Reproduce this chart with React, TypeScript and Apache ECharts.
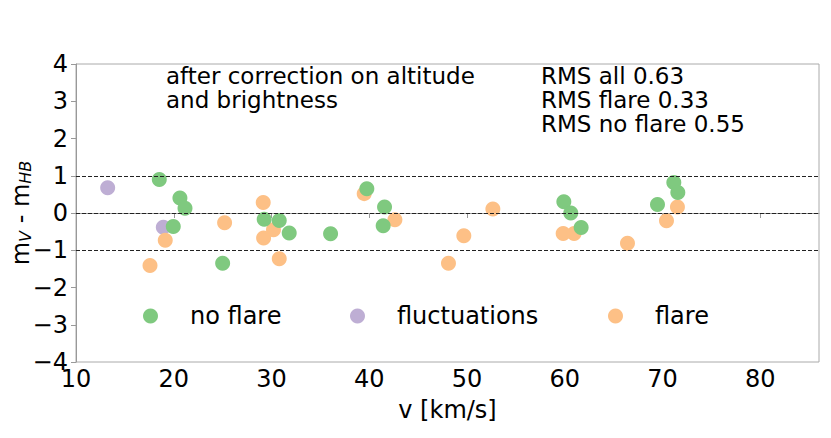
import React, { useEffect, useRef } from "react";
import * as echarts from "echarts";

const noFlare: number[][] = [
  [18.52, 0.9], [20.63, 0.4], [21.15, 0.13], [19.95, -0.36], [25.0, -1.35],
  [29.25, -0.17], [30.79, -0.2], [31.81, -0.54], [36.04, -0.56], [39.75, 0.65],
  [41.56, 0.16], [41.42, -0.34], [59.9, 0.3], [60.61, 0.0], [61.67, -0.39],
  [69.48, 0.23], [71.15, 0.82], [71.56, 0.55],
];
const fluctuations: number[][] = [
  [13.24, 0.68], [18.93, -0.38],
];
const flare: number[][] = [
  [17.57, -1.41], [19.13, -0.73], [25.2, -0.26], [29.15, 0.28], [29.19, -0.67],
  [30.2, -0.45], [30.79, -1.23], [39.48, 0.52], [42.62, -0.18], [48.1, -1.35],
  [49.67, -0.61], [52.64, 0.11], [59.83, -0.55], [60.95, -0.55], [66.41, -0.81],
  [70.4, -0.21], [71.52, 0.16],
];
const xTicks = [10, 20, 30, 40, 50, 60, 70, 80];
const refLines = [-1, 0, 1];
const annotation = ["after correction on altitude", "and brightness"];
const rmsLines = ["RMS all 0.63", "RMS flare 0.33", "RMS no flare 0.55"];

const FONT = "DejaVu Sans";
const GREEN = "#7fc97f";
const PURPLE = "#beaed4";
const ORANGE = "#fdc086";

export default function App() {
  const ref = useRef<HTMLDivElement>(null);
  useEffect(() => {
    if (!ref.current) return;
    const chart = echarts.init(ref.current, null, { renderer: "svg" });
    const legendBase = {
      orient: "horizontal",
      top: 299,
      itemWidth: 15,
      itemHeight: 15,
      icon: "circle",
      textStyle: { fontFamily: FONT, fontSize: 24, color: "#000", padding: [0, 0, 0, 27] },
    };
    const textLine = (s: string, x: number, y: number) => ({
      type: "text",
      left: x,
      top: y,
      style: { text: s, fontFamily: FONT, fontSize: 23, fill: "#000" },
    });
    chart.setOption({
      animation: false,
      backgroundColor: "#fff",
      grid: {
        left: 76, right: 12, top: 64, bottom: 76,
        outerBoundsMode: "none",
        containLabel: false,
        show: true, borderColor: "#aaa", borderWidth: 1,
      },
      legend: [
        { ...legendBase, left: 138, data: ["no flare"] },
        { ...legendBase, left: 345, data: ["fluctuations"] },
        { ...legendBase, left: 603, data: ["flare"] },
      ],
      xAxis: {
        type: "value",
        min: 10,
        max: 86,
        interval: 10,
        name: "v [km/s]",
        nameLocation: "middle",
        nameGap: 36,
        nameMoveOverlap: false,
        nameTextStyle: { fontFamily: FONT, fontSize: 24, color: "#000" },
        axisLine: { show: true, lineStyle: { color: "#999", width: 1 } },
        axisTick: { show: true, length: 5, inside: false, lineStyle: { color: "#999" }, customValues: xTicks },
        axisLabel: { fontFamily: FONT, fontSize: 24, color: "#000", margin: 5, customValues: xTicks },
        splitLine: { show: false },
      },
      yAxis: {
        type: "value",
        min: -4,
        max: 4,
        interval: 1,
        name: "{m|m}{s|V}{m| - m}{s|HB}",
        nameLocation: "middle",
        nameRotate: 90,
        nameGap: 43,
        nameMoveOverlap: false,
        nameTextStyle: {
          fontFamily: FONT,
          fontSize: 24,
          color: "#000",
          rich: {
            m: { fontFamily: FONT, fontSize: 24, color: "#000" },
            s: { fontFamily: FONT, fontSize: 16, fontStyle: "italic", color: "#000", verticalAlign: "bottom" },
          },
        },
        axisLine: { show: true, lineStyle: { color: "#999", width: 1 } },
        axisTick: { show: true, length: 5, inside: false, lineStyle: { color: "#999" } },
        axisLabel: {
          fontFamily: FONT,
          fontSize: 24,
          color: "#000",
          margin: 8,
          formatter: (v: number) => String(v).replace("-", "\u2212"),
        },
        splitLine: { show: false },
      },
      series: [
        {
          name: "fluctuations",
          type: "scatter",
          data: fluctuations,
          symbolSize: 15,
          itemStyle: { color: PURPLE, opacity: 1 },
          markLine: {
            silent: true,
            symbol: "none",
            label: { show: false },
            lineStyle: { color: "#222", type: [4, 2], width: 1 },
            data: refLines.map((y) => ({ yAxis: y })),
          },
        },
        {
          name: "flare",
          type: "scatter",
          data: flare,
          symbolSize: 15,
          itemStyle: { color: ORANGE, opacity: 1 },
        },
        {
          name: "no flare",
          type: "scatter",
          data: noFlare,
          symbolSize: 15,
          itemStyle: { color: GREEN, opacity: 1 },
        },
      ],
      graphic: [
        ...annotation.map((s, i) => textLine(s, 166, 64 + i * 24)),
        ...rmsLines.map((s, i) => textLine(s, 541, 64 + i * 24)),
      ],
    });
    return () => chart.dispose();
  }, []);
  return (
    <div
      ref={ref}
      style={{ position: "fixed", left: 0, top: 0, width: 831, height: 438 }}
    />
  );
}
